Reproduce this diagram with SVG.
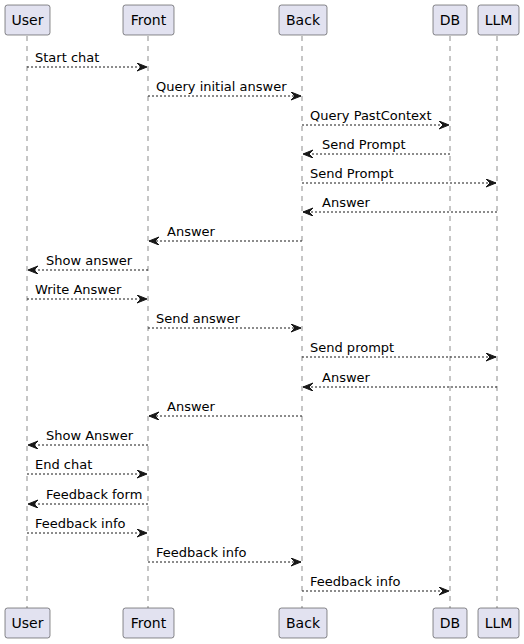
<svg xmlns="http://www.w3.org/2000/svg" width="524" height="644" viewBox="0 0 524 644">
<style>
.box{fill:#E2E2F0;stroke:#181818;stroke-width:0.5}
.life{stroke:#181818;stroke-width:0.5;stroke-dasharray:5,5;fill:none}
.pt{font-family:"DejaVu Sans",sans-serif;font-size:14px;fill:#000;text-anchor:middle}
.msg{stroke:#181818;stroke-width:1;stroke-dasharray:2,2;fill:none;marker-end:url(#ah)}
.mt{font-family:"DejaVu Sans",sans-serif;font-size:13px;fill:#000}
</style>
<defs>
<marker id="ah" markerUnits="userSpaceOnUse" markerWidth="12" markerHeight="10" refX="10" refY="4" orient="auto">
<polygon points="0,0 10,4 0,8 4,4" fill="#181818" stroke="#181818" stroke-width="1"/>
</marker>
</defs>
<g id="lifelines">
<line class="life" x1="27" y1="36" x2="27" y2="608"/>
<line class="life" x1="148" y1="36" x2="148" y2="608"/>
<line class="life" x1="302" y1="36" x2="302" y2="608"/>
<line class="life" x1="450" y1="36" x2="450" y2="608"/>
<line class="life" x1="497" y1="36" x2="497" y2="608"/>
</g>
<g id="User">
<rect class="box" x="5" y="5" width="45" height="30" rx="2.5"/><text class="pt" x="27.5" y="25">User</text>
<rect class="box" x="5" y="608" width="45" height="30" rx="2.5"/><text class="pt" x="27.5" y="628">User</text>
</g>
<g id="Front">
<rect class="box" x="123" y="5" width="51" height="30" rx="2.5"/><text class="pt" x="148.5" y="25">Front</text>
<rect class="box" x="123" y="608" width="51" height="30" rx="2.5"/><text class="pt" x="148.5" y="628">Front</text>
</g>
<g id="Back">
<rect class="box" x="279" y="5" width="48" height="30" rx="2.5"/><text class="pt" x="303" y="25">Back</text>
<rect class="box" x="279" y="608" width="48" height="30" rx="2.5"/><text class="pt" x="303" y="628">Back</text>
</g>
<g id="DB">
<rect class="box" x="433" y="5" width="34" height="30" rx="2.5"/><text class="pt" x="450" y="25">DB</text>
<rect class="box" x="433" y="608" width="34" height="30" rx="2.5"/><text class="pt" x="450" y="628">DB</text>
</g>
<g id="LLM">
<rect class="box" x="478" y="5" width="41" height="30" rx="2.5"/><text class="pt" x="498.5" y="25">LLM</text>
<rect class="box" x="478" y="608" width="41" height="30" rx="2.5"/><text class="pt" x="498.5" y="628">LLM</text>
</g>
<g id="connectors">
<line class="msg" x1="27" y1="67" x2="147" y2="67"/><text class="mt" x="35" y="62">Start chat</text>
<line class="msg" x1="148" y1="96" x2="301" y2="96"/><text class="mt" x="156" y="91">Query initial answer</text>
<line class="msg" x1="302" y1="125" x2="449" y2="125"/><text class="mt" x="310" y="120">Query PastContext</text>
<line class="msg" x1="450" y1="154" x2="303" y2="154"/><text class="mt" x="322" y="149">Send Prompt</text>
<line class="msg" x1="302" y1="183" x2="496" y2="183"/><text class="mt" x="310" y="178">Send Prompt</text>
<line class="msg" x1="497" y1="212" x2="303" y2="212"/><text class="mt" x="322" y="207">Answer</text>
<line class="msg" x1="302" y1="241" x2="149" y2="241"/><text class="mt" x="167" y="236">Answer</text>
<line class="msg" x1="148" y1="270" x2="28" y2="270"/><text class="mt" x="46" y="265">Show answer</text>
<line class="msg" x1="27" y1="299" x2="147" y2="299"/><text class="mt" x="35" y="294">Write Answer</text>
<line class="msg" x1="148" y1="328" x2="301" y2="328"/><text class="mt" x="156" y="323">Send answer</text>
<line class="msg" x1="302" y1="357" x2="496" y2="357"/><text class="mt" x="310" y="352">Send prompt</text>
<line class="msg" x1="497" y1="387" x2="303" y2="387"/><text class="mt" x="322" y="382">Answer</text>
<line class="msg" x1="302" y1="416" x2="149" y2="416"/><text class="mt" x="167" y="411">Answer</text>
<line class="msg" x1="148" y1="445" x2="28" y2="445"/><text class="mt" x="46" y="440">Show Answer</text>
<line class="msg" x1="27" y1="474" x2="147" y2="474"/><text class="mt" x="35" y="469">End chat</text>
<line class="msg" x1="148" y1="504" x2="28" y2="504"/><text class="mt" x="46" y="499">Feedback form</text>
<line class="msg" x1="27" y1="533" x2="147" y2="533"/><text class="mt" x="35" y="528">Feedback info</text>
<line class="msg" x1="148" y1="562" x2="301" y2="562"/><text class="mt" x="156" y="557">Feedback info</text>
<line class="msg" x1="302" y1="591" x2="449" y2="591"/><text class="mt" x="310" y="586">Feedback info</text>
</g>
</svg>
